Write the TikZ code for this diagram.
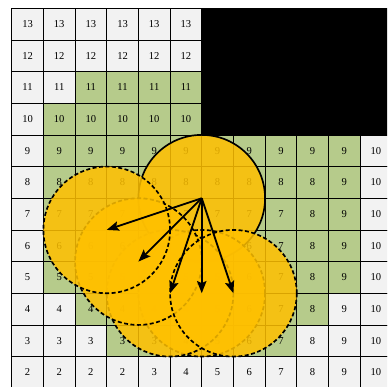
\documentclass[tikz,border=0pt]{standalone}
\usepackage{fontspec}
\setmainfont{Liberation Serif}
\usetikzlibrary{arrows.meta}
\definecolor{cellw}{HTML}{F2F2F2}
\definecolor{cellg}{HTML}{B6CB8B}
\definecolor{discc}{HTML}{FFC000}
\begin{document}
\begin{tikzpicture}[x=1cm,y=1cm,
  cellbox/.style={draw=black, line width=0.7pt, minimum size=1cm, inner sep=0pt, font=\fontsize{9.5}{11}\selectfont},
  disc/.style={circle, minimum size=4cm, inner sep=0pt, fill=discc, fill opacity=0.85, draw=black, line width=1.5pt},
  dashdisc/.style={disc, dash pattern=on 3.6pt off 2.2pt},
  vec/.style={line width=1.6pt, -{Stealth[length=11pt,width=8.5pt,inset=2pt]}}]
\useasboundingbox (-0.37,0.04) rectangle (11.85,12.26);
\clip (-0.37,0.04) rectangle (11.85,12.26);
% grid of cells
\foreach \i in {0,...,11} {
  \foreach \j in {0,...,11} {
    \pgfmathtruncatemacro\v{max(\j+2,\i-1)}
    \pgfmathtruncatemacro\g{((\j==1) && (\i>=3) && (\i<=8)) || ((\j==2) && (\i>=2) && (\i<=9)) || ((\j>=3) && (\j<=7) && (\i>=1) && (\i<=10)) || ((\j==8) && (\i>=1) && (\i<=5)) || ((\j==9) && (\i>=2) && (\i<=5))}
    \pgfmathtruncatemacro\k{(\i>=6) && (\j>=8)}
    \ifnum\k=0
      \ifnum\g=1 \def\cc{cellg}\else\def\cc{cellw}\fi
      \node[cellbox, fill=\cc] (c-\i-\j) at (\i+0.5,\j+0.5) {\v};
    \fi
  }
}
% black block
\fill[black] (6,8) rectangle (12,12);
% discs
\node[disc] (s) at (6,6) {};
\node[dashdisc] (d4) at (6,3) {};
\node[dashdisc] (d3) at (5,3) {};
\node[dashdisc] (d2) at (4,4) {};
\node[dashdisc] (d5) at (7,3) {};
\node[dashdisc] (d1) at (3,5) {};
% arrows
\foreach \t in {d1,d2,d3,d4,d5} {
  \draw[vec] (s.center) -- (\t.center);
}
\end{tikzpicture}
\end{document}
